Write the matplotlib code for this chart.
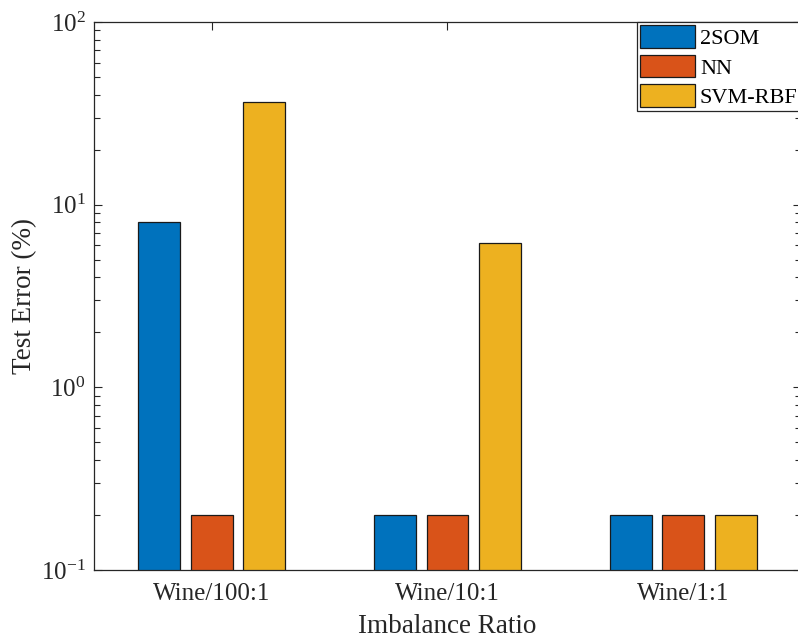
import matplotlib
matplotlib.use("Agg")
import matplotlib.pyplot as plt
import numpy as np
from matplotlib.ticker import LogLocator, FixedLocator

plt.rcParams['font.family'] = ['Liberation Serif', 'DejaVu Serif']
plt.rcParams['mathtext.fontset'] = 'custom'
plt.rcParams['mathtext.rm'] = 'Liberation Serif'
plt.rcParams['mathtext.it'] = 'Liberation Serif:italic'
plt.rcParams['mathtext.bf'] = 'Liberation Serif:bold'
plt.rcParams['axes.unicode_minus'] = False

categories = ['Wine/100:1', 'Wine/10:1', 'Wine/1:1']
series_names = ['2SOM', 'NN', 'SVM-RBF']
som2 = [8.0, 0.2, 0.2]
nn = [0.2, 0.2, 0.2]
svm_rbf = [36.5, 6.2, 0.2]
colors = ['#0072BD', '#D95319', '#EDB120']

dark = '#262626'
fig = plt.figure(figsize=(7.98, 6.42), dpi=100)
ax = fig.add_axes([94/798, 72/642, 707/798, 548/642])

x = np.arange(1, len(categories) + 1)
width = 0.178
offsets = [-0.223, 0.0, 0.223]
for vals, off, c, name in zip([som2, nn, svm_rbf], offsets, colors, series_names):
    ax.bar(x + off, vals, width, bottom=1e-3, color=c, edgecolor='#1a1a1a',
           linewidth=0.9, label=name, zorder=2)

ax.set_yscale('log')
ax.set_ylim(0.1, 100)
ax.set_xlim(0.5, 3.5)
ax.set_xticks(x)
ax.set_xticklabels(categories)
ax.yaxis.set_major_locator(LogLocator(base=10, numticks=10))
ax.yaxis.set_minor_locator(LogLocator(base=10, subs=np.arange(2, 10), numticks=10))

ax.tick_params(axis='both', which='both', direction='in', top=True, right=True,
               colors=dark, labelcolor=dark, width=0.8)
ax.tick_params(axis='both', which='major', length=6, labelsize=18)
ax.tick_params(axis='x', which='major', pad=9)
ax.tick_params(axis='y', which='major', pad=6)
ax.tick_params(axis='both', which='minor', length=4)
ax.xaxis.set_minor_locator(FixedLocator([]))

for s in ax.spines.values():
    s.set_color(dark)
    s.set_linewidth(0.9)

ax.set_xlabel('Imbalance Ratio', fontsize=19.5, color=dark, labelpad=7)
ax.set_ylabel('Test Error (%)', fontsize=19.5, color=dark)
ax.yaxis.set_label_coords(-0.081, 0.5)

leg = ax.legend(loc='upper right', fontsize=16, frameon=True, fancybox=False,
                edgecolor=dark, framealpha=1, borderpad=0.15, handlelength=2.5,
                handleheight=1.19, handletextpad=0.2, labelspacing=0.25,
                borderaxespad=0.0)
leg.get_frame().set_linewidth(0.9)
for t in leg.get_texts():
    t.set_color('black')

fig.savefig('out.png', dpi=100, facecolor='white')
